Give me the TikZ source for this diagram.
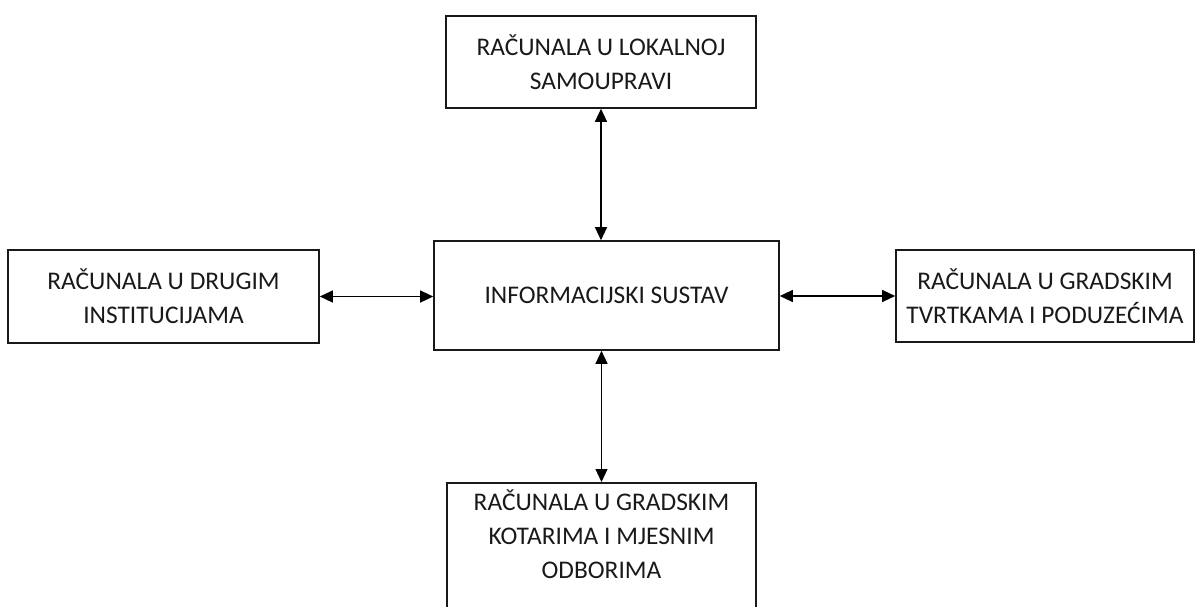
\documentclass[tikz,border=0pt]{standalone}
\usepackage{fontspec}
\setmainfont{Carlito}
\usetikzlibrary{arrows.meta}
\usetikzlibrary{positioning}
\tikzset{
    unit/.style = {draw=black!90,line width=0.8pt,align=center,inner sep=0,text=black!90,font=\fontsize{12.7}{17}\selectfont},
    link/.style = {{Triangle[length=6.5pt,width=6pt]}-{Triangle[length=6.5pt,width=6pt]},line width=0.6pt}
}

\begin{document}
\begin{tikzpicture}[x=0.5pt,y=-0.5pt]
        \newcommand*\pxl{0.5pt}
        \useasboundingbox (0,0) rectangle (1195,606);
        % Central system
        \node[unit,minimum width=345*\pxl,minimum height=109*\pxl] (sys) at (606.5,295.5) {INFORMACIJSKI SUSTAV};
        % Connected units
        \node[unit,minimum width=310*\pxl,minimum height=92*\pxl] (uprava) at (601,62)
            {RAČUNALA U LOKALNOJ\\SAMOUPRAVI};
        \node[unit,minimum width=311*\pxl,minimum height=93*\pxl] (ustanove) at (163.5,296.5)
            {RAČUNALA U DRUGIM\\INSTITUCIJAMA};
        \node[unit,minimum width=298*\pxl,minimum height=92*\pxl] (tvrtke) at (1045,296)
            {RAČUNALA U GRADSKIM\\TVRTKAMA I PODUZEĆIMA};
        \node[unit,minimum width=309*\pxl,inner ysep=7*\pxl,text depth=60pt,anchor=north] (kotari) at (601.5,482)
            {RAČUNALA U GRADSKIM\\KOTARIMA I MJESNIM\\ODBORIMA};
        % Links
        \draw[link] (uprava.south) -- (uprava.south |- sys.north);
        \draw[link] (kotari.north) -- (kotari.north |- sys.south);
        \draw[link] (ustanove.east) -- (ustanove.east -| sys.west);
        \draw[link] (tvrtke.west) -- (tvrtke.west -| sys.east);
\end{tikzpicture}
\end{document}
